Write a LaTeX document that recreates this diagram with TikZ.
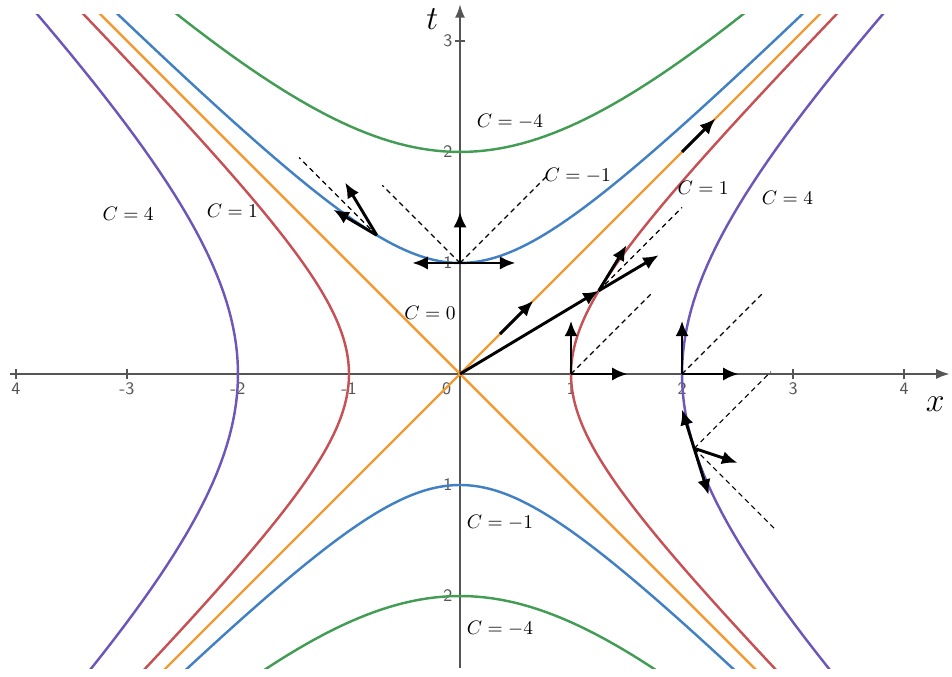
\documentclass[tikz,border=0pt]{standalone}
\usepackage{amsmath,amssymb}
\usetikzlibrary{arrows.meta}
\definecolor{cgreen}{RGB}{66,156,84}
\definecolor{cblue}{RGB}{66,128,196}
\definecolor{corange}{RGB}{243,154,50}
\definecolor{cred}{RGB}{198,80,84}
\definecolor{cpurple}{RGB}{108,86,184}
\definecolor{caxis}{RGB}{85,85,85}
\tikzset{
  curve/.style={line width=1.25pt},
  axisline/.style={draw=caxis, line width=0.9pt},
  vec/.style={-{Latex[length=2.8mm,width=2.4mm]}, line width=1.5pt},
  vecboth/.style={{Latex[length=2.8mm,width=2.4mm]}-{Latex[length=2.8mm,width=2.4mm]}, line width=1.5pt},
  cone/.style={dash pattern=on 2.6pt off 2pt, line width=0.6pt},
  ticklbl/.style={font=\sffamily\small, text=caxis, inner sep=1pt},
  clbl/.style={inner sep=1pt}
}

\begin{document}
\begin{tikzpicture}[x=2cm, y=2cm]
  \useasboundingbox (-4.144,-2.721) rectangle (4.432,3.369);
  \draw[axisline, -{Latex[length=2.4mm,width=1.8mm]}] (-4.05,0) -- (4.41,0);
  \draw[axisline, -{Latex[length=2.4mm,width=1.8mm]}] (0,-2.65) -- (0,3.33);
  \foreach \v/\s in {-4/4,-3/-3,-2/-2,-1/-1,1/1,2/2,3/3,4/4} {
    \draw[axisline] (\v,-0.045) -- (\v,0.045);
    \node[ticklbl] (xt\v) at (\v,-0.13) {\s};
  }
  \node[ticklbl] (xt0) at (-0.12,-0.13) {0};
  \foreach \v/\s in {-2/2,-1/1,1/1,2/2,3/3} {
    \draw[axisline] (-0.045,\v) -- (0.045,\v);
    \node[ticklbl] (tt\v) at (-0.11,\v) {\s};
  }
  \node (xlbl) at (4.28,-0.27) {\LARGE $x$};
  \node (tlbl) at (-0.25,3.2) {\LARGE $t$};

  \begin{scope}
    \clip (-4.1,-2.65) rectangle (4.45,3.24);
    \draw[curve, cgreen] plot[domain=-1.3:1.3, samples=80, variable=\s] ({2*sinh(\s)},{2*cosh(\s)});
    \draw[curve, cgreen] plot[domain=-1.3:1.3, samples=80, variable=\s] ({2*sinh(\s)},{-2*cosh(\s)});
    \draw[curve, cblue] plot[domain=-2.1:2.1, samples=100, variable=\s] ({sinh(\s)},{cosh(\s)});
    \draw[curve, cblue] plot[domain=-2.1:2.1, samples=100, variable=\s] ({sinh(\s)},{-cosh(\s)});
    \draw[curve, corange] (-3.5,-3.5) -- (3.5,3.5);
    \draw[curve, corange] (-3.5,3.5) -- (3.5,-3.5);
    \draw[curve, cred] plot[domain=-2.1:2.1, samples=100, variable=\s] ({cosh(\s)},{sinh(\s)});
    \draw[curve, cred] plot[domain=-2.1:2.1, samples=100, variable=\s] ({-cosh(\s)},{sinh(\s)});
    \draw[curve, cpurple] plot[domain=-1.5:1.5, samples=80, variable=\s] ({2*cosh(\s)},{2*sinh(\s)});
    \draw[curve, cpurple] plot[domain=-1.5:1.5, samples=80, variable=\s] ({-2*cosh(\s)},{2*sinh(\s)});
  \end{scope}

  \coordinate (O) at (0,0);
  \coordinate (A) at (0,1);
  \coordinate (B) at (1,0);
  \coordinate (D) at (2,0);
  \coordinate (P1) at (-0.75,1.25);
  \coordinate (P2) at (1.25,0.75);
  \coordinate (P3) at (2.11,-0.67);

  \coordinate (Aul) at (-0.7,1.7);
  \coordinate (Aur) at (0.78,1.78);
  \coordinate (P1ul) at (-1.45,1.95);
  \coordinate (Bur) at (1.72,0.72);
  \coordinate (P2ur) at (2.0,1.5);
  \coordinate (Dur) at (2.73,0.73);
  \coordinate (P3ur) at (2.8,0.02);
  \coordinate (P3dr) at (2.83,-1.39);
  \draw[cone] (A) -- (Aul);
  \draw[cone] (A) -- (Aur);
  \draw[cone] (P1) -- (P1ul);
  \draw[cone] (B) -- (Bur);
  \draw[cone] (P2) -- (P2ur);
  \draw[cone] (D) -- (Dur);
  \draw[cone] (P3) -- (P3ur);
  \draw[cone] (P3) -- (P3dr);

  \coordinate (Aup) at (0,1.46);
  \coordinate (Al) at (-0.43,1);
  \coordinate (Ar) at (0.5,1);
  \coordinate (Bup) at (1,0.48);
  \coordinate (Br) at (1.51,0);
  \coordinate (Dup) at (2,0.48);
  \coordinate (Dr) at (2.51,0);
  \coordinate (P1t) at (-1.035,1.725);
  \coordinate (P1x) at (-1.14,1.48);
  \coordinate (P2t) at (1.5,1.16);
  \coordinate (P2x) at (1.79,1.07);
  \coordinate (P3t) at (2.0,-0.32);
  \coordinate (P3b) at (2.24,-1.09);
  \coordinate (P3x) at (2.5,-0.8);
  \coordinate (N1a) at (0.36,0.36);
  \coordinate (N1b) at (0.66,0.66);
  \coordinate (N2a) at (2.0,2.0);
  \coordinate (N2b) at (2.3,2.3);
  \draw[vec] (A) -- (Aup);
  \draw[vecboth] (Al) -- (Ar);
  \draw[vec] (B) -- (Bup);
  \draw[vec] (B) -- (Br);
  \draw[vec] (D) -- (Dup);
  \draw[vec] (D) -- (Dr);
  \draw[vec] (P1) -- (P1t);
  \draw[vec] (P1) -- (P1x);
  \draw[vec] (O) -- (P2);
  \draw[vec] (P2) -- (P2t);
  \draw[vec] (P2) -- (P2x);
  \draw[vecboth] (P3t) -- (P3b);
  \draw[vec] (P3) -- (P3x);
  \draw[vec] (N1a) -- (N1b);
  \draw[vec] (N2a) -- (N2b);

  \node[clbl] (cgU) at (0.45,2.27) {$C=-4$};
  \node[clbl] (cbU) at (1.06,1.79) {$C=-1$};
  \node[clbl] (crR) at (2.19,1.68) {$C=1$};
  \node[clbl] (cpR) at (2.95,1.59) {$C=4$};
  \node[clbl] (cpL) at (-2.99,1.44) {$C=4$};
  \node[clbl] (crL) at (-2.05,1.47) {$C=1$};
  \node[clbl] (co) at (-0.27,0.55) {$C=0$};
  \node[clbl] (cbD) at (0.36,-1.34) {$C=-1$};
  \node[clbl] (cgD) at (0.36,-2.29) {$C=-4$};
\end{tikzpicture}
\end{document}
